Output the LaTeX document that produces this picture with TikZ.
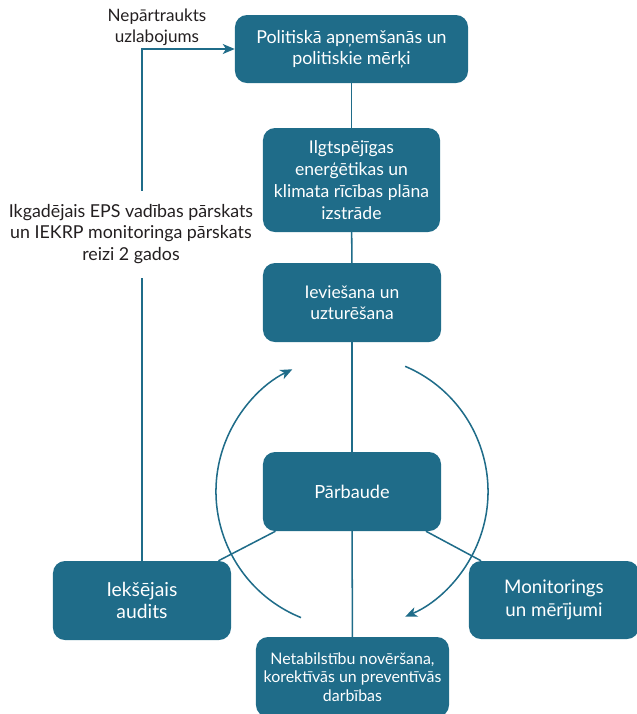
\documentclass[tikz,border=0pt]{standalone}
\usepackage{fontspec}
\setmainfont{Lato}
\usetikzlibrary{arrows.meta}

\definecolor{boxteal}{HTML}{1F6C89}
\definecolor{labeltxt}{HTML}{231F20}

\tikzset{
  box/.style={fill=boxteal, rounded corners=0.36cm, text=white, align=center, inner sep=0pt},
  link/.style={draw=boxteal, line width=1.3pt},
  tip/.style={-{Stealth[length=0.36cm, width=0.3cm, inset=0.1cm]}},
  lbl/.style={text=labeltxt, align=center, font=\fontsize{15.2}{18}\selectfont}
}

\begin{document}
\begin{tikzpicture}[x=0.03cm,y=-0.03cm]
  \useasboundingbox (0,0) rectangle (637,714);
  % cikla bloki
  \node[box, minimum width=6.99cm, minimum height=2.04cm, font=\fontsize{15.2}{18}\selectfont] (pol) at (351.5,49) {Politiskā apņemšanās un\\politiskie mērķi};
  \node[box, minimum width=5.31cm, minimum height=3.12cm, font=\fontsize{15}{18.8}\selectfont] (plan) at (351.5,180) {Ilgtspējīgas\\enerģētikas un\\klimata rīcības plāna\\izstrāde};
  \node[box, minimum width=5.34cm, minimum height=2.37cm, font=\fontsize{14.9}{18}\selectfont] (impl) at (352,302.5) {Ieviešana un\\uzturēšana};
  \node[box, minimum width=5.34cm, minimum height=2.37cm, font=\fontsize{15.5}{18}\selectfont] (check) at (352,491.5) {Pārbaude};
  \node[box, minimum width=5.34cm, minimum height=2.37cm, font=\fontsize{16.5}{19}\selectfont] (audit) at (142,600.5) {Iekšējais\\audits};
  \node[box, minimum width=5.1cm, minimum height=2.34cm, font=\fontsize{16}{20}\selectfont] (mon) at (554,600) {Monitorings\\un mērījumi};
  \node[box, minimum width=5.79cm, minimum height=2.4cm, font=\fontsize{13.6}{16}\selectfont] (fix) at (352.5,677) {Netabilstību novēršana,\\korektīvās un preventīvās\\darbības};

  % teksti
  \node[lbl, font=\fontsize{14.6}{18}\selectfont] (improve) at (157,27) {Nepārtraukts\\uzlabojums};
  \node[lbl, inner ysep=0.42cm] (review) at (131,234) {Ikgadējais EPS vadības pārskats\\un IEKRP monitoringa pārskats\\reizi 2 gados};

  % savienojumi
  \draw[link] (pol) -- (plan);
  \draw[link] (plan) -- (impl);
  \draw[link] (impl) -- (check);
  \draw[link] (check) -- (fix);
  \draw[link] (check) -- (audit);
  \draw[link] (check) -- (mon);
  \draw[link] (audit.north) -- (audit.north |- review.south);
  \draw[link, tip] (audit.north |- review.north) |- (pol.west);

  % aplis
  \draw[link, tip] (check.center) ++(112:136) arc[start angle=112, end angle=244, radius=136];
  \draw[link, tip] (check.center) ++(-67:136) arc[start angle=-67, end angle=67, radius=136];
\end{tikzpicture}
\end{document}
